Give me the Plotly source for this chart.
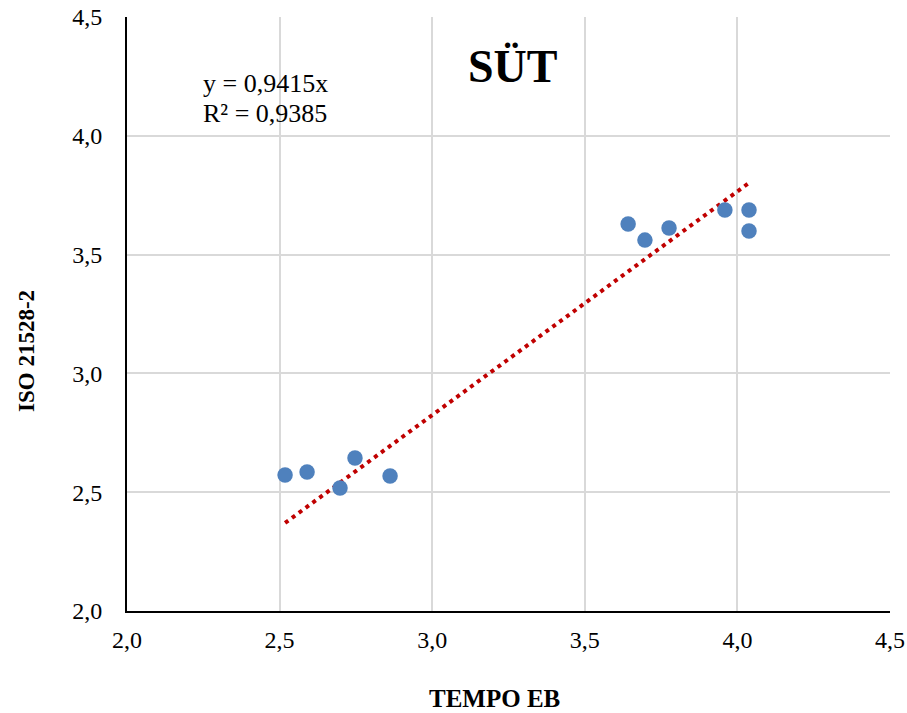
import plotly.graph_objects as go

tempo_eb = [2.518, 2.590, 2.698, 2.747, 2.862, 3.642, 3.697, 3.776, 3.959, 4.038, 4.038]
iso_21528 = [2.572, 2.585, 2.518, 2.644, 2.568, 3.629, 3.561, 3.612, 3.688, 3.688, 3.599]
slope = 0.9415
tick_vals = [2.0, 2.5, 3.0, 3.5, 4.0, 4.5]
tick_text = ["2,0", "2,5", "3,0", "3,5", "4,0", "4,5"]

xmin, xmax = min(tempo_eb), max(tempo_eb)
trend_x = [xmin, xmax]
trend_y = [slope * xmin, slope * xmax]

font = "Liberation Serif, Times New Roman, serif"

W, H = 907, 713
L, T, PW, PH = 127, 17, 763, 594


def px(sx):
    return (sx - L) / PW


def py(sy):
    return (T + PH - sy) / PH


fig = go.Figure()
fig.add_trace(go.Scatter(x=trend_x, y=trend_y, mode="lines",
                         line=dict(color="#C00000", width=4, dash="4px,4.5px"),
                         hoverinfo="skip", showlegend=False))
fig.add_trace(go.Scatter(x=tempo_eb, y=iso_21528, mode="markers",
                         marker=dict(color="#4F81BD", size=15.5),
                         showlegend=False))

fig.update_layout(
    width=W, height=H,
    margin=dict(l=L, r=W - L - PW, t=T, b=H - T - PH, autoexpand=False),
    paper_bgcolor="white", plot_bgcolor="white",
    font=dict(family=font, color="black", size=24),
)
fig.update_xaxes(range=[2.0, 4.5], tickvals=tick_vals, ticktext=tick_text,
                 showgrid=True, gridcolor="#D9D9D9", gridwidth=2,
                 showline=True, linecolor="black", linewidth=2,
                 zeroline=False, ticks="", ticklen=0, ticklabelstandoff=6,
                 ticklabeloverflow="allow",
                 tickfont=dict(size=24, family=font))
fig.update_yaxes(range=[2.0, 4.5], tickvals=tick_vals, ticktext=tick_text,
                 showgrid=True, gridcolor="#D9D9D9", gridwidth=2,
                 showline=True, linecolor="black", linewidth=2,
                 zeroline=False, ticks="", ticklen=0, ticklabelstandoff=18,
                 ticklabeloverflow="allow",
                 tickfont=dict(size=24, family=font))

fig.add_annotation(text="<b>TEMPO EB</b>", xref="paper", yref="paper",
                   x=px(494), y=py(698), showarrow=False,
                   font=dict(size=25, family=font), xanchor="center", yanchor="middle")
fig.add_annotation(text="<b>ISO 21528-2</b>", xref="paper", yref="paper",
                   x=px(26), y=py(351), showarrow=False, textangle=-90,
                   font=dict(size=23, family=font), xanchor="center", yanchor="middle")

fig.add_annotation(text="<b>SÜT</b>", xref="paper", yref="paper",
                   x=px(512), y=py(66), showarrow=False,
                   font=dict(size=46, family=font), xanchor="center", yanchor="middle")
fig.add_annotation(text="y = 0,9415x", xref="paper", yref="paper",
                   x=px(201), y=py(84), showarrow=False,
                   font=dict(size=26, family=font), xanchor="left", yanchor="middle")
fig.add_annotation(text="R² = 0,9385", xref="paper", yref="paper",
                   x=px(201), y=py(114), showarrow=False,
                   font=dict(size=26, family=font), xanchor="left", yanchor="middle")

fig.write_html("out.html", config={"displayModeBar": False},
               post_script="document.body.style.margin='0';")
